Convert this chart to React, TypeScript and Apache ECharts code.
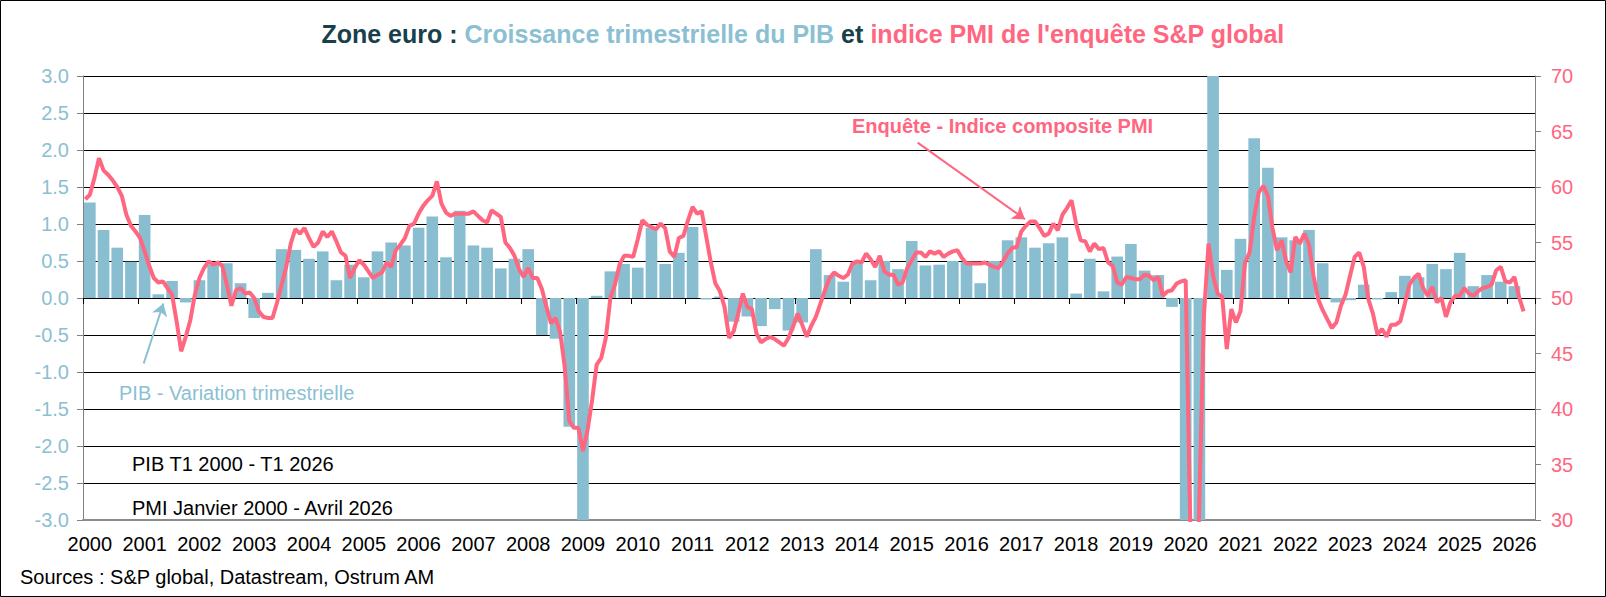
import React, { useEffect, useRef } from 'react';
import * as echarts from 'echarts';

// Year tick labels (one per Q1 category)
const yearLabels = [
  '2000', '2001', '2002', '2003', '2004', '2005', '2006', '2007', '2008', '2009',
  '2010', '2011', '2012', '2013', '2014', '2015', '2016', '2017', '2018', '2019',
  '2020', '2021', '2022', '2023', '2024', '2025', '2026',
];
const quarterNames = ['T1', 'T2', 'T3', 'T4'];
// Quarterly categories T1 2000 .. T2 2026 (106 bands)
const quarterCats = yearLabels.flatMap((y) => quarterNames.map((q) => `${q} ${y}`)).slice(0, 106);

// Euro area GDP, quarter-on-quarter % change, T1 2000 .. T1 2026
const gdpQoQ = [
  1.29, 0.92, 0.68, 0.49, 1.12, 0.05, 0.23, -0.06, 0.24, 0.45,
  0.47, 0.2, -0.27, 0.07, 0.66, 0.65, 0.53, 0.63, 0.24, 0.45,
  0.28, 0.63, 0.75, 0.71, 0.95, 1.1, 0.55, 1.18, 0.71, 0.68,
  0.4, 0.53, 0.66, -0.5, -0.55, -1.74, -3.1, 0.03, 0.36, 0.46,
  0.41, 0.95, 0.46, 0.61, 0.96, -0.02, 0.02, -0.32, -0.25, -0.38,
  -0.15, -0.44, -0.33, 0.66, 0.31, 0.22, 0.47, 0.24, 0.5, 0.39,
  0.77, 0.44, 0.45, 0.5, 0.49, 0.2, 0.5, 0.78, 0.82, 0.68,
  0.74, 0.82, 0.06, 0.53, 0.09, 0.56, 0.73, 0.37, 0.31, -0.12,
  -3.6, -11.3, 12.4, 0.38, 0.8, 2.16, 1.76, 0.82, 0.78, 0.92,
  0.47, -0.06, -0.03, 0.18, -0.02, 0.08, 0.3, 0.28, 0.46, 0.39,
  0.61, 0.16, 0.31, 0.22, 0.16,
];

// S&P Global composite PMI, monthly, Jan 2000 .. Apr 2026
const pmiComposite = [
  58.9, 59.3, 60.8, 62.6, 61.5, 61.1, 60.6, 60.0, 59.2, 57.5,
  56.5, 56.0, 55.4, 54.2, 52.9, 51.8, 51.4, 51.5, 50.9, 50.3,
  47.9, 45.2, 46.5, 48.0, 50.3, 51.8, 52.7, 53.3, 53.0, 53.2,
  52.9, 51.2, 49.3, 50.7, 50.9, 50.4, 50.5, 50.0, 48.8, 48.3,
  48.2, 48.2, 49.6, 51.2, 52.8, 54.9, 56.2, 55.8, 56.3, 55.4,
  54.6, 55.0, 56.0, 55.5, 56.0, 55.1, 54.1, 53.8, 51.8, 52.7,
  53.4, 53.0, 52.4, 51.8, 52.1, 52.3, 53.2, 52.8, 54.3, 54.8,
  55.4, 56.5, 56.7, 57.6, 58.3, 58.8, 59.2, 60.5, 58.5, 57.7,
  57.4, 57.6, 57.6, 57.6, 57.6, 57.8, 57.4, 57.0, 56.8, 57.9,
  57.6, 57.3, 55.0, 54.5, 53.8, 52.6, 51.9, 52.7, 51.8, 51.8,
  50.8, 49.2, 47.7, 48.2, 46.9, 43.8, 38.9, 38.3, 38.3, 36.2,
  38.1, 40.8, 44.0, 44.6, 46.4, 50.0, 51.2, 53.0, 53.8, 53.8,
  53.7, 55.3, 57.0, 56.6, 56.4, 56.2, 56.7, 56.3, 54.2, 53.7,
  55.4, 55.6, 57.0, 58.2, 57.6, 57.8, 55.5, 53.2, 51.3, 50.6,
  49.2, 46.4, 47.0, 48.6, 50.4, 49.2, 49.0, 46.8, 46.0, 46.3,
  46.5, 46.3, 46.0, 45.7, 46.4, 47.4, 48.6, 47.6, 46.5, 47.5,
  48.3, 49.5, 50.7, 51.8, 52.3, 52.0, 51.8, 52.1, 53.1, 53.3,
  53.2, 54.0, 53.5, 52.8, 53.8, 52.4, 52.1, 52.1, 51.2, 51.4,
  52.7, 53.4, 54.1, 54.1, 53.7, 54.2, 54.0, 54.2, 53.7, 54.0,
  54.2, 54.3, 53.6, 53.1, 53.1, 53.1, 53.1, 53.2, 53.0, 52.8,
  52.7, 53.3, 54.0, 54.5, 54.6, 56.0, 56.5, 56.9, 56.9, 56.3,
  55.6, 55.8, 56.7, 56.1, 57.5, 58.1, 58.8, 56.7, 55.2, 55.1,
  54.2, 54.9, 54.4, 54.5, 53.2, 52.9, 51.4, 51.2, 51.9, 51.8,
  51.7, 51.7, 52.1, 52.0, 51.6, 51.9, 50.2, 50.6, 50.7, 51.3,
  51.5, 51.6, 29.7, 13.6, 31.9, 48.5, 54.9, 52.0, 50.4, 50.1,
  45.4, 49.0, 47.8, 48.8, 53.2, 54.1, 57.3, 59.5, 60.1, 59.2,
  56.3, 54.3, 55.2, 53.3, 52.3, 55.5, 54.9, 55.8, 54.8, 52.0,
  49.9, 48.9, 48.1, 47.3, 47.8, 49.3, 50.3, 52.0, 53.7, 54.1,
  52.8, 49.9, 48.6, 46.7, 47.2, 46.5, 47.6, 47.6, 47.9, 49.5,
  51.2, 51.8, 52.2, 50.9, 50.2, 51.0, 49.6, 50.0, 48.3, 49.6,
  50.2, 50.2, 50.9, 50.4, 50.2, 50.6, 50.9, 51.0, 51.2, 52.5,
  52.8, 51.5, 51.4, 51.9, 50.1, 48.8,
];

const FONT = "'Liberation Sans', Arial, sans-serif";
const BLUE = '#89bed1';
const BLUE_TXT = '#8bbfd2';
const PINK = '#ff6680';
const DARK = '#17404b';
const AXIS_GREY = '#808080';

export default function App() {
  const ref = useRef<HTMLDivElement>(null);

  useEffect(() => {
    document.body.style.margin = '0';
    const chart = echarts.init(ref.current as HTMLDivElement, null, { renderer: 'svg' });

    const option: any = {
      animation: false,
      backgroundColor: '#fff',
      title: {
        text:
          '{d|Zone euro : }{b|Croissance trimestrielle du PIB}{d| et }{p|indice PMI de l\'enquête S&P global}',
        left: 'center',
        top: 16,
        textStyle: {
          rich: {
            d: { color: DARK, fontSize: 25, fontWeight: 'bold', fontFamily: FONT },
            b: { color: BLUE_TXT, fontSize: 25, fontWeight: 'bold', fontFamily: FONT },
            p: { color: PINK, fontSize: 25, fontWeight: 'bold', fontFamily: FONT },
          },
        },
      },
      grid: { left: 83, right: 71, top: 76, bottom: 77, containLabel: false },
      xAxis: [
        {
          type: 'category',
          data: quarterCats,
          position: 'bottom',
          axisLine: { onZero: true, onZeroAxisIndex: 0, lineStyle: { color: '#000', width: 1 } },
          axisTick: {
            show: true,
            interval: (i: number) => i % 4 === 0,
            length: 6,
            lineStyle: { color: '#000', width: 1 },
          },
          axisLabel: { show: false },
          splitLine: { show: false },
        },
        {
          type: 'category',
          data: quarterCats,
          position: 'bottom',
          axisLine: { onZero: false, lineStyle: { color: '#8c8c8c', width: 2 } },
          axisTick: { show: false },
          axisLabel: {
            interval: (i: number) => i % 4 === 0,
            formatter: (v: string) => v.split(' ')[1],
            color: '#000',
            fontSize: 20,
            fontFamily: FONT,
            margin: 14,
          },
          splitLine: { show: false },
        },
        {
          type: 'value',
          min: 0,
          max: quarterCats.length * 3,
          show: false,
        },
      ],
      yAxis: [
        {
          type: 'value',
          position: 'left',
          min: -3,
          max: 3,
          interval: 0.5,
          axisLine: { show: true, onZero: false, lineStyle: { color: AXIS_GREY, width: 1 } },
          axisTick: { show: true, length: 6, lineStyle: { color: AXIS_GREY } },
          axisLabel: {
            color: BLUE_TXT,
            fontSize: 20,
            fontFamily: FONT,
            margin: 14,
            formatter: (v: number) => v.toFixed(1),
          },
          splitLine: { show: true, lineStyle: { color: '#000', width: 1 } },
        },
        {
          type: 'value',
          position: 'right',
          min: 30,
          max: 70,
          interval: 5,
          axisLine: { show: true, onZero: false, lineStyle: { color: AXIS_GREY, width: 1 } },
          axisTick: { show: true, length: 6, lineStyle: { color: AXIS_GREY } },
          axisLabel: { color: PINK, fontSize: 20, fontFamily: FONT, margin: 16 },
          splitLine: { show: false },
        },
      ],
      series: [
        {
          name: 'PIB - Variation trimestrielle',
          type: 'bar',
          xAxisIndex: 0,
          yAxisIndex: 0,
          data: gdpQoQ,
          barCategoryGap: '15%',
          itemStyle: { color: BLUE },
          clip: true,
          z: 2,
        },
        {
          name: 'Enquête - Indice composite PMI',
          type: 'line',
          xAxisIndex: 2,
          yAxisIndex: 1,
          data: pmiComposite.map((v, i) => [i + 0.5, v]),
          showSymbol: false,
          symbol: 'none',
          lineStyle: { color: PINK, width: 4 },
          itemStyle: { color: PINK },
          clip: true,
          z: 3,
          markLine: {
            silent: true,
            symbol: ['none', 'arrow'],
            symbolSize: 12,
            label: { show: false },
            animation: false,
            data: [
              [
                { coord: [182.8, 64.0], lineStyle: { color: PINK, width: 2, type: 'solid' } },
                { coord: [206.3, 57.1] },
              ],
              [
                { coord: [13.3, 44.1], lineStyle: { color: BLUE_TXT, width: 2, type: 'solid' } },
                { coord: [17.6, 49.5] },
              ],
            ],
          },
        },
      ],
      graphic: [
        {
          type: 'rect',
          shape: { x: 0.5, y: 0.5, width: 1605, height: 596 },
          style: { fill: 'none', stroke: '#000', lineWidth: 1 },
          silent: true,
          z: 100,
        },
        {
          type: 'text',
          x: 852,
          y: 126,
          style: {
            text: 'Enquête - Indice composite PMI',
            fill: PINK,
            font: `bold 20px ${FONT}`,
            textVerticalAlign: 'middle',
          },
          z: 50,
        },
        {
          type: 'text',
          x: 119,
          y: 393,
          style: {
            text: 'PIB - Variation trimestrielle',
            fill: BLUE_TXT,
            font: `20px ${FONT}`,
            textVerticalAlign: 'middle',
          },
          z: 50,
        },
        {
          type: 'text',
          x: 132,
          y: 464,
          style: {
            text: 'PIB T1 2000 - T1 2026',
            fill: '#000',
            font: `20px ${FONT}`,
            textVerticalAlign: 'middle',
          },
          z: 50,
        },
        {
          type: 'text',
          x: 132,
          y: 508,
          style: {
            text: 'PMI Janvier 2000 - Avril 2026',
            fill: '#000',
            font: `20px ${FONT}`,
            textVerticalAlign: 'middle',
          },
          z: 50,
        },
        {
          type: 'text',
          x: 20,
          y: 577,
          style: {
            text: 'Sources : S&P global, Datastream, Ostrum AM',
            fill: '#000',
            font: `20px ${FONT}`,
            textVerticalAlign: 'middle',
          },
          z: 50,
        },
      ],
    };

    chart.setOption(option);
    return () => chart.dispose();
  }, []);

  return <div ref={ref} style={{ width: 1606, height: 597 }} />;
}
